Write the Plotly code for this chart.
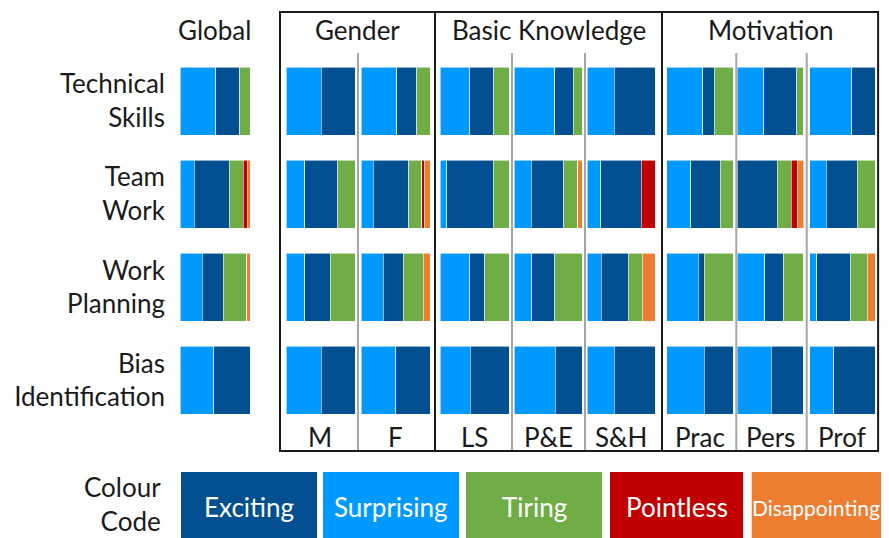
import plotly.graph_objects as go

# the page body has an 8px margin: the figure starts at (8, 8) in the window and
# only 873px of width are visible, so the right-most group is squeezed a little
OFF = 8
WIN_W, WIN_H = 889, 538
W, H = WIN_W - 2 * OFF, WIN_H - OFF
SQUEEZE_FROM = 662
FONT = "Lato"

SKILLS = ["Technical<br>Skills", "Team<br>Work", "Work<br>Planning", "Bias<br>Identification"]
COLUMNS = ["Global", "M", "F", "LS", "P&E", "S&H", "Prac", "Pers", "Prof"]
GROUPS = ["Gender", "Basic Knowledge", "Motivation"]

# share of answers (%), one row per skill, one column per group in COLUMNS
SURPRISING = [
    [51, 51, 52, 43, 60, 40, 54, 40, 64],
    [20, 27, 18, 10, 25, 20, 36, 0, 25],
    [32, 27, 32, 43, 26, 21, 47, 41, 11],
    [48, 51, 50, 44, 61, 40, 56, 51, 37],
]
EXCITING = [
    [34, 49, 29, 35, 27, 60, 17, 49, 36],
    [50, 48, 51, 67, 48, 60, 44, 60, 48],
    [30, 37, 29, 22, 34, 40, 9, 29, 51],
    [52, 49, 50, 56, 39, 60, 44, 49, 63],
]
TIRING = [
    [15, 0, 19, 22, 13, 0, 29, 11, 0],
    [20, 25, 19, 23, 21, 0, 20, 21, 27],
    [33, 36, 29, 35, 40, 20, 44, 30, 26],
    [0, 0, 0, 0, 0, 0, 0, 0, 0],
]
POINTLESS = [
    [0, 0, 0, 0, 0, 0, 0, 0, 0],
    [6, 0, 4, 0, 0, 20, 0, 10, 0],
    [0, 0, 0, 0, 0, 0, 0, 0, 0],
    [0, 0, 0, 0, 0, 0, 0, 0, 0],
]
DISAPPOINTING = [
    [0, 0, 0, 0, 0, 0, 0, 0, 0],
    [4, 0, 8, 0, 6, 0, 0, 9, 0],
    [5, 0, 10, 0, 0, 19, 0, 0, 12],
    [0, 0, 0, 0, 0, 0, 0, 0, 0],
]

EMOTIONS = ["Surprising", "Exciting", "Tiring", "Pointless", "Disappointing"]
SERIES = [SURPRISING, EXCITING, TIRING, POINTLESS, DISAPPOINTING]
COLORS = {
    "Exciting": "#02508F",
    "Surprising": "#0099FF",
    "Tiring": "#70AD47",
    "Pointless": "#C00000",
    "Disappointing": "#ED7D31",
}
LEGEND_ORDER = ["Exciting", "Surprising", "Tiring", "Pointless", "Disappointing"]

# layout in window pixels
col_px = [(180, 250), (286, 355), (361, 430), (440, 509), (514, 582),
          (587, 655), (667, 736), (740, 809), (815, 883)]
group_px = [(280, 435), (435, 662), (662, 886)]
sep_px = [358, 512, 585, 739, 812]
legend_px = [(181, 317), (323, 459), (466, 602), (610, 746), (755, 889)]


def px(x):
    if x > SQUEEZE_FROM:
        x = SQUEEZE_FROM + (x - SQUEEZE_FROM) * (OFF + W - SQUEEZE_FROM) / (WIN_W - SQUEEZE_FROM)
    return (x - OFF) / W


def py(y):
    return 1 - (y - OFF) / H


fig = go.Figure()

for c, name in enumerate(COLUMNS):
    axis = "x" if c == 0 else f"x{c + 1}"
    for emo, data in zip(EMOTIONS, SERIES):
        fig.add_trace(go.Bar(
            x=[row[c] for row in data],
            y=SKILLS,
            orientation="h",
            xaxis=axis,
            yaxis="y",
            marker=dict(color=COLORS[emo], line=dict(color="rgba(255,255,255,0.7)", width=0.8)),
            showlegend=False,
            hoverinfo="skip",
        ))

layout = dict(
    width=W,
    height=H,
    margin=dict(l=0, r=0, t=0, b=0),
    paper_bgcolor="white",
    plot_bgcolor="white",
    barmode="stack",
    bargap=0.27,
    font=dict(family=FONT, color="#1a1a1a"),
    yaxis=dict(
        domain=[py(427), py(54.5)],
        anchor="x",
        autorange="reversed",
        showgrid=False,
        showline=False,
        zeroline=False,
        ticks="",
        tickfont=dict(size=26, family=FONT, color="#1a1a1a"),
        ticklabelstandoff=14,
        fixedrange=True,
    ),
)
for c, (x0, x1) in enumerate(col_px):
    key = "xaxis" if c == 0 else f"xaxis{c + 1}"
    layout[key] = dict(domain=[px(x0), px(x1)], range=[0, 100], visible=False,
                       anchor="y", fixedrange=True)
fig.update_layout(**layout)

shapes = []
# grey dividers inside the groups
for x in sep_px:
    shapes.append(dict(type="line", xref="paper", yref="paper",
                       x0=px(x), x1=px(x), y0=py(53), y1=py(451),
                       line=dict(color="#a6a6a6", width=2)))
# group boxes
for x0, x1 in group_px:
    shapes.append(dict(type="rect", xref="paper", yref="paper",
                       x0=px(x0), x1=px(x1), y0=py(451), y1=py(12),
                       line=dict(color="#1a1a1a", width=2)))
# colour code boxes (run to the bottom of the figure)
for (x0, x1), emo in zip(legend_px, LEGEND_ORDER):
    shapes.append(dict(type="rect", xref="paper", yref="paper",
                       x0=px(x0), x1=px(x1), y0=0, y1=py(472),
                       fillcolor=COLORS[emo], line=dict(width=0), layer="below"))
fig.update_layout(shapes=shapes)

ann = []
ann.append(dict(text="Global", x=px(214), y=py(30)))
for (x0, x1), g in zip(group_px, GROUPS):
    ann.append(dict(text=g, x=(px(x0) + px(x1)) / 2, y=py(30)))
for (x0, x1), name in zip(col_px[1:], COLUMNS[1:]):
    ann.append(dict(text=name, x=(px(x0) + px(x1)) / 2, y=py(437)))
for (x0, x1), emo in zip(legend_px, LEGEND_ORDER):
    size = 21 if emo == "Disappointing" else 26
    ann.append(dict(text=emo, x=(px(x0) + px(x1)) / 2, y=py(507),
                    font=dict(size=size, color="white")))
ann.append(dict(text="Colour<br>Code", x=px(163), y=py(504), xanchor="right", align="right"))

for a in ann:
    a.setdefault("font", dict(size=26))
    a["font"].setdefault("family", FONT)
    a["font"].setdefault("color", "#1a1a1a")
    a.update(xref="paper", yref="paper", showarrow=False)
    a.setdefault("xanchor", "center")
    a.setdefault("yanchor", "middle")
fig.update_layout(annotations=ann)

fig.write_html("out.html")
